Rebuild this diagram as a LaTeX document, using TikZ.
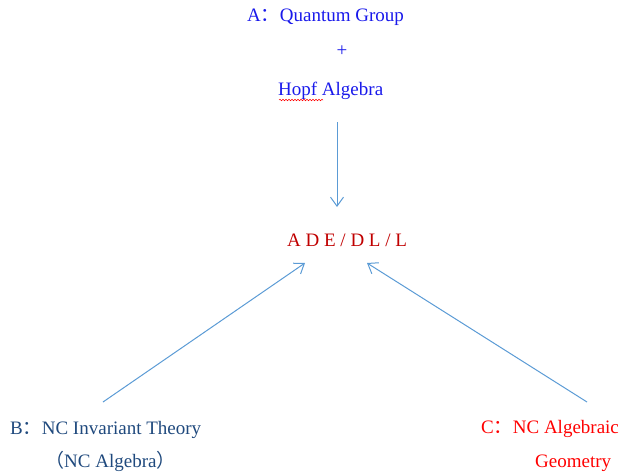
\documentclass[tikz,border=0pt]{standalone}
\usepackage{fontspec}
\setmainfont{Liberation Serif}
\newfontfamily\cjk{Noto Sans CJK SC}
\usetikzlibrary{arrows.meta,decorations.pathmorphing}
\definecolor{ablue}{RGB}{25,25,235}
\definecolor{bblue}{HTML}{1F497D}
\definecolor{cred}{HTML}{FF0000}
\definecolor{dred}{HTML}{C00000}
\definecolor{arrowblue}{HTML}{5B9BD5}
\tikzset{
  lbl/.style={inner sep=0pt, anchor=base west, font=\fontsize{19}{23}\selectfont},
  conn/.style={draw=arrowblue, line width=1pt, -{Straight Barb[length=9pt,width=13pt,line width=1pt]}},
}
\begin{document}
\begin{tikzpicture}[x=1pt,y=-1pt]
\useasboundingbox (0,0) rectangle (621,474);
\node[lbl, text=ablue] (a1) at (247,21) {A{\cjk ：}Quantum Group};
\node[inner sep=0pt, font=\fontsize{19}{23}\selectfont, text=ablue] (plus) at (342,51) {+};
\node[lbl, text=ablue] (a2) at (278,95) {Hopf Algebra};
\draw[cred, line width=0.5pt, decorate, decoration={snake, amplitude=0.8pt, segment length=3pt}] (a2.base west) ++(1,5) coordinate (w1) -- ++(44,0) coordinate (w2);
\node[lbl, text=dred] (ade) at (287,246) {A D E / D L / L};
\node[lbl, text=bblue] (b1) at (10,434) {B{\cjk ：}NC Invariant Theory};
\node[lbl, text=bblue] (b2) at (45,467) {{\cjk （}NC Algebra{\cjk ）}};
\node[lbl, text=cred] (c1) at (481,433) {C{\cjk ：}NC Algebraic};
\node[lbl, text=cred] (c2) at (535,467) {Geometry};
\coordinate (s1) at (337,122);
\coordinate (t1) at (337,207);
\coordinate (s2) at (103,402);
\coordinate (t2) at (305,263);
\coordinate (s3) at (587,402);
\coordinate (t3) at (367,263);
\draw[conn] (s1) -- (t1);
\draw[conn] (s2) -- (t2);
\draw[conn] (s3) -- (t3);
\end{tikzpicture}
\end{document}
